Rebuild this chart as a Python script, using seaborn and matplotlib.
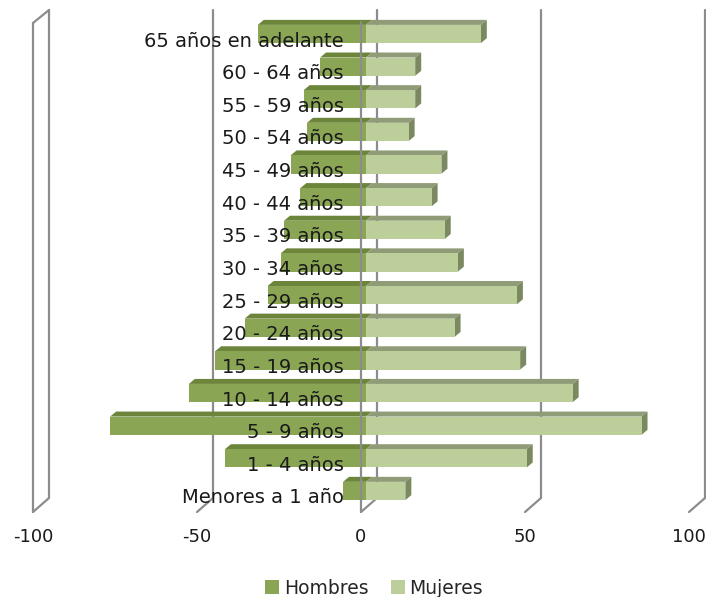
import matplotlib
matplotlib.use("Agg")
import matplotlib.pyplot as plt
import matplotlib.transforms as mtransforms
from matplotlib.patches import Polygon, Patch
import seaborn as sns
import pandas as pd

# Age groups, top to bottom
categories = [
    "65 años en adelante", "60 - 64 años", "55 - 59 años", "50 - 54 años",
    "45 - 49 años", "40 - 44 años", "35 - 39 años", "30 - 34 años",
    "25 - 29 años", "20 - 24 años", "15 - 19 años", "10 - 14 años",
    "5 - 9 años", "1 - 4 años", "Menores a 1 año",
]
hombres = [33, 14, 19, 18, 23, 20, 25, 26, 30, 37, 46, 54, 78, 43, 7]
mujeres = [35, 15, 15, 13, 23, 20, 24, 28, 46, 27, 47, 63, 84, 49, 12]
xticks = [-100, -50, 0, 50, 100]
series_names = ["Hombres", "Mujeres"]

df = pd.DataFrame({
    "grupo": categories,
    "Hombres": [-v for v in hombres],
    "Mujeres": mujeres,
})

sns.set_theme(style="white")
plt.rcParams["font.family"] = ["DejaVu Sans"]

W, H = 706, 597
fig = plt.figure(figsize=(W / 100, H / 100), dpi=100)
ax = fig.add_axes([38 / W, (H - 507.3) / H, 656 / W, 489.6 / H])

col_h, col_h_top = "#8aa553", "#6c853a"
col_m, col_m_top, col_m_side = "#bccf9a", "#8f9c77", "#7b8961"
grid_col = "#8c8c8c"

sns.barplot(data=df, x="Hombres", y="grupo", orient="h", color=col_h,
            saturation=1, width=0.56, errorbar=None, linewidth=0, ax=ax, zorder=2)
sns.barplot(data=df, x="Mujeres", y="grupo", orient="h", color=col_m,
            saturation=1, width=0.56, errorbar=None, linewidth=0, ax=ax, zorder=2)
ax.set_xlim(-100, 100)
ax.set_ylim(len(categories) - 0.5, -0.5)

# 3-D depth faces on every bar
fig.canvas.draw()
depth_dx, depth_dy = 6, 5  # pixels
inv = ax.transData.inverted()
n = len(categories)
for i, p in enumerate(list(ax.patches)):
    x0, y0 = p.get_x(), p.get_y()
    w, h = p.get_width(), p.get_height()
    xl, xr = min(x0, x0 + w), max(x0, x0 + w)
    yt = min(y0, y0 + h)
    yb = max(y0, y0 + h)
    female = i >= n
    (ax_l, ay_t), (ax_r, ay_b) = ax.transData.transform([(xl, yt), (xr, yb)])
    top = [(ax_l, ay_t), (ax_r, ay_t), (ax_r + depth_dx, ay_t + depth_dy),
           (ax_l + depth_dx, ay_t + depth_dy)]
    ax.add_patch(Polygon(inv.transform(top), closed=True,
                         facecolor=col_m_top if female else col_h_top,
                         edgecolor="none", zorder=1.9))
    if female:
        side = [(ax_r, ay_t), (ax_r + depth_dx, ay_t + depth_dy),
                (ax_r + depth_dx, ay_b + depth_dy), (ax_r, ay_b)]
        ax.add_patch(Polygon(inv.transform(side), closed=True,
                             facecolor=col_m_side, edgecolor="none", zorder=1.9))

# Walls and gridlines: x in data units, y in figure pixels
blend = mtransforms.blended_transform_factory(ax.transData, fig.transFigure)
def shifted(dx_px):
    return blend + mtransforms.ScaledTranslation(dx_px / 100, 0, fig.dpi_scale_trans)

def fy(ypx):
    return (H - ypx) / H

back_dx, front_dx = 11, -5
back_top, back_bot, front_top, front_bot = 10, 498, 23, 512
lw = 1.6
for v in xticks:
    ax.plot([v, v], [fy(back_top), fy(back_bot)], color=grid_col, lw=lw,
            transform=shifted(back_dx), clip_on=False, zorder=0.5)
    p_back = shifted(back_dx).transform((v, fy(back_bot)))
    p_front = shifted(front_dx).transform((v, fy(front_bot)))
    ax.plot([p_back[0], p_front[0]], [p_back[1], p_front[1]], color=grid_col,
            lw=lw, transform=None, clip_on=False, zorder=0.5)

# side wall on the left edge
v = xticks[0]
ax.plot([v, v], [fy(front_top), fy(front_bot)], color=grid_col, lw=lw,
        transform=shifted(front_dx), clip_on=False, zorder=0.5)
p_ft = shifted(front_dx).transform((v, fy(front_top)))
p_bt = shifted(back_dx).transform((v, fy(back_top)))
ax.plot([p_ft[0], p_bt[0]], [p_ft[1], p_bt[1]], color=grid_col, lw=lw,
        transform=None, clip_on=False, zorder=0.5)

# front vertical axis line at zero
ax.plot([0, 0], [fy(front_top - 1), fy(front_bot)], color=grid_col, lw=lw,
        transform=shifted(front_dx), clip_on=False, zorder=3)

for s in ax.spines.values():
    s.set_visible(False)
ax.spines["left"].set_position(("data", 0))

ax.set_xlabel("")
ax.set_ylabel("")
ax.set_xticks(xticks)
ax.set_xticklabels([str(t) for t in xticks])
ax.tick_params(axis="both", length=0, colors="#1a1a1a")
ax.tick_params(axis="x", pad=15, labelsize=13)
ax.tick_params(axis="y", pad=16, labelsize=14)
for lab in ax.get_xticklabels():
    lab.set_transform(lab.get_transform() +
                      mtransforms.ScaledTranslation(front_dx / 100, 0, fig.dpi_scale_trans))
# category names sit on the front plane, slightly below the bar centres
for lab in ax.get_yticklabels():
    lab.set_transform(lab.get_transform() +
                      mtransforms.ScaledTranslation(0, -5 / 100, fig.dpi_scale_trans))
ax.yaxis.set_zorder(5)

handles = [Patch(facecolor=col_h, edgecolor="none"),
           Patch(facecolor=col_m, edgecolor="none")]
fig.legend(handles, series_names, loc="center", bbox_to_anchor=(374 / W, fy(588)),
           ncol=2, frameon=False, fontsize=13.5, handlelength=0.75, handleheight=0.75,
           handletextpad=0.25, columnspacing=1.2)

fig.savefig("out.png", dpi=100)
